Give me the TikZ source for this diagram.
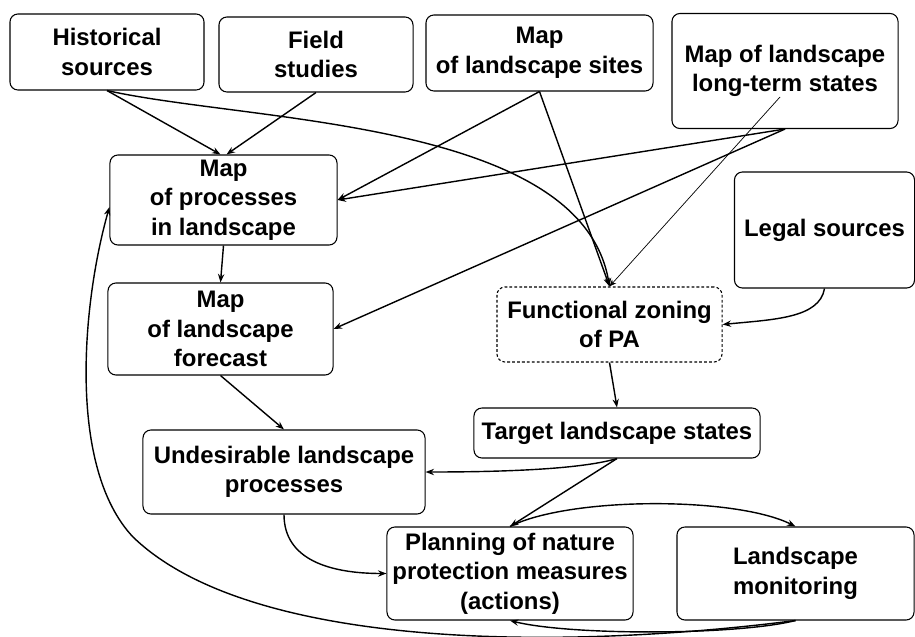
\documentclass[tikz,border=0pt]{standalone}
\usepackage{fontspec}
\setmainfont{Liberation Sans}
\usetikzlibrary{arrows.meta,calc}
\begin{document}
\begin{tikzpicture}[
		x=0.025cm, y=-0.025cm,
		every node/.style={draw, rounded corners=0.2cm, align=center, inner sep=1pt, line width=0.75pt, font=\fontsize{17}{21}\selectfont\bfseries},
		zonebox/.style={dash pattern=on 2pt off 1.5pt},
		conn/.style={-{Stealth[length=6pt,width=4.5pt]}, line width=1pt},
		thinconn/.style={-{Stealth[length=5pt,width=4pt]}, line width=0.5pt}
		]
	\useasboundingbox (0,0) rectangle (915,637);
	\node[minimum width=4.85cm, minimum height=1.9cm] (hist) at (107,52) {Historical\\sources};
	\node[minimum width=4.85cm, minimum height=1.875cm] (field) at (316,54.5) {Field\\studies};
	\node[minimum width=5.675cm, minimum height=1.9cm] (sites) at (539.5,53) {Map\\of landscape sites};
	\node[minimum width=5.65cm, minimum height=2.875cm] (longterm) at (785,71) {Map of landscape\\long-term states};
	\node[minimum width=5.675cm, minimum height=2.25cm] (proc) at (223.5,200) {Map\\of processes\\in landscape};
	\node[minimum width=5.625cm, minimum height=2.3cm] (fore) at (220.5,329) {Map\\of landscape\\forecast};
	\node[minimum width=4.5cm, minimum height=2.9cm] (legal) at (824.5,230) {Legal sources};
	\node[zonebox, minimum width=5.625cm, minimum height=1.875cm] (zone) at (609.5,324.5) {Functional zoning\\of PA};
	\node[minimum width=7.15cm, minimum height=1.25cm] (target) at (617,433) {Target landscape states};
	\node[minimum width=7.05cm, minimum height=2.1cm] (undes) at (284,472) {Undesirable landscape\\processes};
	\node[minimum width=6.15cm, minimum height=2.325cm] (plan) at (510,573.5) {Planning of nature\\protection measures\\(actions)};
	\node[minimum width=5.925cm, minimum height=2.325cm] (monit) at (795.5,573.5) {Landscape\\monitoring};
	\coordinate (bend) at (133,537);

	\draw[conn] (hist.south) -- ($(proc.north)+(-3,0)$);
	\draw[conn] (field.south) -- ($(proc.north)+(3,0)$);
	\draw[conn] (sites.south) -- (proc.east);
	\draw[conn] (longterm.south) -- (proc.east);
	\draw[conn] (longterm.south) -- (fore.east);
	\draw[conn] (sites.south) -- (zone.north);
	\draw[conn] (hist.south) .. controls +(143,32) and +(-28,-167) .. (zone.north);
	\draw[thinconn] ($(longterm.center)+(-5,26)$) -- (zone.north);
	\draw[conn] (legal.south) .. controls +(-5,30) and +(50,-5) .. (zone.east);
	\draw[conn] (proc.south) -- (fore.north);
	\draw[conn] (fore.south) -- (undes.north);
	\draw[conn] (zone.south) -- (target.north);
	\draw[conn] (target.south) .. controls +(-40,12) and +(60,0) .. (undes.east);
	\draw[conn] (target.south) -- (plan.north);
	\draw[conn] (plan.north) .. controls +(60,-30) and +(-60,-30) .. (monit.north);
	\draw[conn] (monit.south) .. controls +(-60,15) and +(60,15) .. (plan.south);
	\draw[conn] (undes.south) .. controls +(0,45) and +(-57,0) .. (plan.west);
	\draw[conn] (monit.south) .. controls +(-235,30) and +(117,113) .. (bend) .. controls +(-66,-70) and +(-27,95) .. ($(proc.west)+(0,7)$);
\end{tikzpicture}
\end{document}
